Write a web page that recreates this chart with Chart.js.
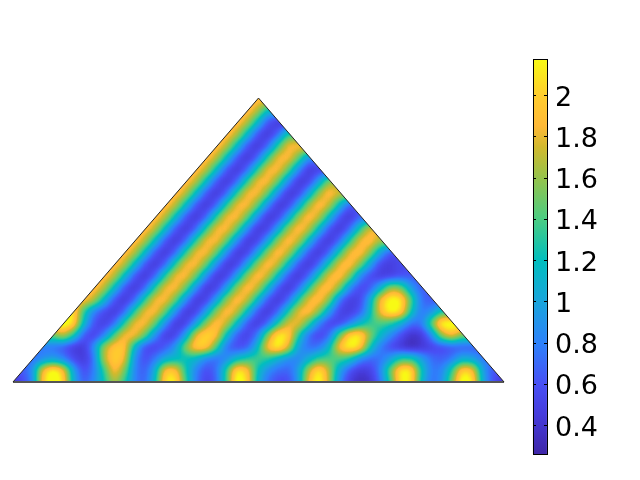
<!DOCTYPE html>
<html>
<head>
<meta charset="utf-8">
<style>
  html, body { margin: 0; padding: 0; background: #fff; }
  canvas { display: block; }
</style>
<script src="https://cdn.jsdelivr.net/npm/chart.js@4"></script>
</head>
<body>
<canvas id="chartHeat" width="640" height="480"></canvas>
<script>
// values, one list per row of the mesh, bottom row first
// row N starts at column N (the left edge of the triangle)
const row00 = [.35,.55,.75,2.0,2.35,2.1,1.05,.62,.85,1.2,1.7,1.3,.8,.65,1.15,2.15,2.2,1.35,.75,.5,.65,1.35,2.35,2.1,1.1,.7,.55,.55,.9,1.9,2.3,1.7,.85,.45,.33,.38,.7,1.3,2.2,2.15,1.15,.7,.85,1.5,2.35,2.2,1.05,.6,.4];
const row01 = [.62,.85,1.9,2.3,2.0,1.0,.55,.75,1.3,1.95,1.55,.8,.62,1.05,2.0,2.0,1.25,.8,.55,.7,1.35,2.2,2.0,1.2,.85,.7,.65,.95,1.7,2.2,1.7,1.0,.6,.42,.48,.78,1.5,2.2,2.2,1.25,.75,.8,1.3,2.1,2.0,1.0,.6];
const row02 = [.7,.85,.95,.8,.55,.42,.7,1.7,2.05,1.9,.85,.55,.75,1.05,1.15,1.2,1.1,.8,.7,.85,1.15,1.3,1.4,1.3,1.05,.85,.8,1.05,1.35,1.4,1.4,1.25,.85,.68,.72,.95,1.3,1.3,1.0,.72,.65,.75,1.05,1.0,.75];
const row03 = [.75,.72,.62,.45,.42,.85,1.65,1.98,2.0,1.1,.55,.5,.62,.9,1.6,2.05,2.05,1.4,.7,.55,.62,1.1,1.95,2.25,1.85,.95,.7,.72,1.1,1.95,2.25,2.1,1.25,.78,.55,.42,.32,.4,.5,.55,.6,.62,.62];
const row04 = [1.45,1.75,1.3,.62,.48,.75,1.4,1.9,1.92,1.5,.85,.44,.5,.95,1.85,2.1,1.95,1.15,.62,.47,.75,1.55,2.2,2.1,1.3,.7,.5,.65,1.45,2.1,2.2,1.6,1.15,.85,.58,.36,.42,.8,1.6,1.95,1.5];
const row05 = [2.3,2.15,1.15,.6,.45,.66,1.32,1.88,1.92,1.5,.85,.42,.48,.95,1.6,1.98,1.75,1.15,.6,.42,.66,1.25,1.8,1.88,1.4,.8,.5,.5,.75,1.1,1.35,1.4,1.3,1.05,.72,.72,1.45,2.3,2.3];
const row06 = [2.15,1.35,.8,.55,.42,.66,1.32,1.88,1.92,1.5,.85,.42,.48,.95,1.6,1.98,1.75,1.15,.6,.4,.66,1.25,1.85,1.98,1.6,.95,.5,.45,.6,1.1,1.9,2.25,2.15,1.25,.75,.85,1.25];
const row07 = [1.95,1.72,1.15,.6,.4,.66,1.32,1.88,1.92,1.5,.85,.42,.48,.95,1.6,1.98,1.75,1.15,.6,.4,.66,1.25,1.85,1.98,1.6,.75,.46,.5,1.0,1.9,2.25,2.2,1.45,.72,.62];
const row08 = [1.95,1.72,1.15,.6,.4,.66,1.32,1.88,1.92,1.5,.85,.42,.48,.95,1.6,1.98,1.75,1.15,.6,.4,.66,1.25,1.85,1.98,1.6,.85,.52,.6,1.05,1.65,1.55,.95,.65];
const row09 = [1.95,1.72,1.15,.6,.4,.66,1.32,1.88,1.92,1.5,.85,.42,.48,.95,1.6,1.98,1.75,1.15,.6,.4,.66,1.25,1.85,1.98,1.6,.85,.55,.45,.48,.58,.62];
const row10 = [1.95,1.72,1.15,.6,.4,.66,1.32,1.88,1.92,1.5,.85,.42,.48,.95,1.6,1.98,1.75,1.15,.6,.4,.66,1.25,1.85,1.98,1.6,1.0,.52,.45,.55];
const row11 = [1.95,1.72,1.15,.6,.4,.66,1.32,1.88,1.92,1.5,.85,.42,.48,.95,1.6,1.98,1.75,1.15,.6,.4,.66,1.25,1.85,1.98,1.6,1.0,.58];
const row12 = [1.95,1.72,1.15,.6,.4,.66,1.32,1.88,1.92,1.5,.85,.42,.48,.95,1.6,1.98,1.75,1.15,.6,.4,.66,1.25,1.85,1.98,1.65];
const row13 = [1.95,1.72,1.15,.6,.4,.66,1.32,1.88,1.92,1.5,.85,.42,.48,.95,1.6,1.98,1.75,1.15,.6,.4,.66,1.25,1.85];
const row14 = [1.95,1.72,1.15,.6,.4,.66,1.32,1.88,1.92,1.5,.85,.42,.48,.95,1.6,1.98,1.75,1.15,.6,.4,.66];
const row15 = [1.95,1.72,1.15,.6,.4,.66,1.32,1.88,1.92,1.5,.85,.42,.48,.95,1.6,1.98,1.75,1.15,.6];
const row16 = [1.95,1.72,1.15,.6,.4,.66,1.32,1.88,1.92,1.5,.85,.42,.48,.95,1.6,1.98,1.75];
const row17 = [1.95,1.72,1.15,.6,.4,.66,1.32,1.88,1.92,1.5,.85,.42,.48,.95,1.6];
const row18 = [1.95,1.72,1.15,.6,.4,.66,1.32,1.88,1.92,1.5,.85,.42,.48];
const row19 = [1.95,1.72,1.15,.6,.4,.66,1.32,1.88,1.92,1.5,.85];
const row20 = [1.95,1.72,1.15,.6,.4,.66,1.32,1.88,1.92];
const row21 = [1.95,1.72,1.15,.6,.4,.66,1.32];
const row22 = [1.95,1.72,1.15,.6,.4];
const row23 = [1.95,1.72,1.15];
const row24 = [1.95];
const heatRows = [row00,row01,row02,row03,row04,row05,row06,row07,row08,row09,row10,row11,row12,
  row13,row14,row15,row16,row17,row18,row19,row20,row21,row22,row23,row24];

// triangle outline in mesh units
const triX = [0, 48, 24, 0];
const triY = [0, 0, 24, 0];

// colorbar
const barLevels = [.26, 2.175];
const colorVals = [.26,.45,.6,.8,1.0,1.2,1.4,1.6,1.75,1.85,2.0,2.175];
const colorR = [62,70,72,45,25,0,75,150,210,255,255,248];
const colorG = [38,60,80,130,165,190,205,195,185,185,205,250];
const colorB = [168,220,245,250,220,190,130,75,45,55,45,20];

function parulaRGB(v) {
  let i = 0;
  while (i < colorVals.length - 2 && v > colorVals[i + 1]) i++;
  let t = (v - colorVals[i]) / (colorVals[i + 1] - colorVals[i]);
  t = Math.max(0, Math.min(1, t));
  const mix = a => Math.round(a[i] + (a[i + 1] - a[i]) * t);
  return [mix(colorR), mix(colorG), mix(colorB)];
}
function parula(v) {
  return `rgb(${parulaRGB(v).join(",")})`;
}

// the mesh is drawn in grey (grey = value), blurred, then recoloured so
// the in-between shades pass through the colormap properly
const GREY_MAX = 2.6;
const greyOf = v => {
  const g = Math.round(v / GREY_MAX * 255);
  return `rgb(${g},${g},${g})`;
};

// mesh points, edge values repeated past the outline so the blur has something to eat
const heatPoints = [];
function pushRow(row, i, start) {
  row.forEach((v, n) => heatPoints.push({ x: start + n, y: i, v }));
  for (let p = 1; p <= 2; p++) {
    heatPoints.push({ x: start - p, y: i, v: row[0] });
    heatPoints.push({ x: start + row.length - 1 + p, y: i, v: row[row.length - 1] });
  }
}
heatRows.forEach((row, i) => pushRow(row, i, i));
pushRow(row00, -1, 0);
pushRow(row00, -2, 0);

const smoothHeat = {
  id: "smoothHeat",
  afterDatasetDraw(chart, args) {
    if (args.index !== 0) return;
    const { ctx, canvas, scales } = chart;
    const snap = document.createElement("canvas");
    snap.width = canvas.width;
    snap.height = canvas.height;
    const sctx = snap.getContext("2d");
    sctx.filter = "blur(5px)";
    sctx.drawImage(canvas, 0, 0);
    sctx.filter = "none";
    const img = sctx.getImageData(0, 0, snap.width, snap.height);
    const lut = [];
    for (let g = 0; g < 256; g++) lut.push(parulaRGB(g / 255 * GREY_MAX));
    for (let p = 0; p < img.data.length; p += 4) {
      if (!img.data[p + 3]) continue;
      const c = lut[img.data[p]];
      img.data[p] = c[0]; img.data[p + 1] = c[1]; img.data[p + 2] = c[2]; img.data[p + 3] = 255;
    }
    sctx.putImageData(img, 0, 0);
    ctx.save();
    ctx.clearRect(0, 0, canvas.width, canvas.height);
    ctx.beginPath();
    triX.forEach((x, i) => {
      const px = scales.x.getPixelForValue(x);
      const py = scales.y.getPixelForValue(triY[i]);
      if (i === 0) ctx.moveTo(px, py); else ctx.lineTo(px, py);
    });
    ctx.closePath();
    ctx.clip();
    ctx.drawImage(snap, 0, 0);
    ctx.restore();
  }
};

const BAR_X = 51.51;
const colorbarFrame = {
  id: "colorbarFrame",
  afterDraw(chart) {
    const { ctx, scales } = chart;
    const xc = Math.round(scales.x.getPixelForValue(BAR_X));
    const left = xc - 7, right = xc + 7;
    const top = scales.y2.getPixelForValue(2.175);
    const bottom = scales.y2.getPixelForValue(.26);
    ctx.save();
    ctx.strokeStyle = "#000";
    ctx.lineWidth = 1;
    ctx.strokeRect(left + .5, Math.round(top) + .5, right - left, Math.round(bottom - top));
    ctx.beginPath();
    scales.y2.ticks.forEach(t => {
      const y = Math.round(scales.y2.getPixelForValue(t.value)) + .5;
      ctx.moveTo(left, y); ctx.lineTo(left + 3, y);
      ctx.moveTo(right, y); ctx.lineTo(right - 3, y);
    });
    ctx.stroke();
    ctx.restore();
  }
};

function barGradient(c) {
  const s = c.chart.scales.y2;
  const y0 = s ? s.getPixelForValue(.26) : NaN;
  const y1 = s ? s.getPixelForValue(2.175) : NaN;
  if (!Number.isFinite(y0) || !Number.isFinite(y1)) return "#000";
  const g = c.chart.ctx.createLinearGradient(0, y0, 0, y1);
  colorVals.forEach((v, i) => g.addColorStop((v - .26) / (2.175 - .26), parula(v)));
  return g;
}

const chart = new Chart(document.getElementById("chartHeat").getContext("2d", { willReadFrequently: true }), {
  type: "scatter",
  data: {
    datasets: [
      {
        data: heatPoints,
        order: 3,
        clip: false,
        pointStyle: "rect",
        pointRadius: 9,
        pointBorderWidth: 0,
        pointBackgroundColor: ctx => greyOf(ctx.raw ? ctx.raw.v : 1)
      },
      {
        data: triX.map((x, i) => ({ x, y: triY[i] })),
        order: 2,
        showLine: true,
        pointRadius: 0,
        borderColor: "#333",
        borderWidth: 1,
        clip: false,
        segment: {
          // the base line is heavier and greyer than the two slopes
          borderWidth: c => (c.p0DataIndex === 0 ? 2 : 1),
          borderColor: c => (c.p0DataIndex === 0 ? "#555" : "#222")
        }
      },
      {
        data: barLevels.map(y => ({ x: BAR_X, y })),
        order: 1,
        yAxisID: "y2",
        showLine: true,
        pointRadius: 0,
        borderWidth: 14,
        borderCapStyle: "butt",
        borderColor: barGradient
      }
    ]
  },
  options: {
    responsive: false,
    animation: false,
    events: [],
    layout: { padding: { left: 0, right: 0, top: 59, bottom: 26 } },
    plugins: { legend: { display: false }, tooltip: { enabled: false } },
    scales: {
      x: { type: "linear", display: false, min: -.391, max: 52.2 },
      y: { type: "linear", display: false, min: -6.086, max: 27.3 },
      y2: {
        type: "linear",
        position: "right",
        min: .26,
        max: 2.175,
        afterFit: s => { s.width = 93; },
        grid: { display: false },
        border: { display: false },
        ticks: {
          z: 1,
          stepSize: .2,
          includeBounds: false,
          padding: 0,
          color: "#000",
          font: { family: "DejaVu Sans", size: 27, lineHeight: "7px" },
          // empty first line pushes the digits down a little, as in the picture
          callback: v => ["", String(+v.toFixed(1))]
        }
      }
    }
  },
  plugins: [smoothHeat, colorbarFrame]
});
chart.update();
</script>
</body>
</html>
